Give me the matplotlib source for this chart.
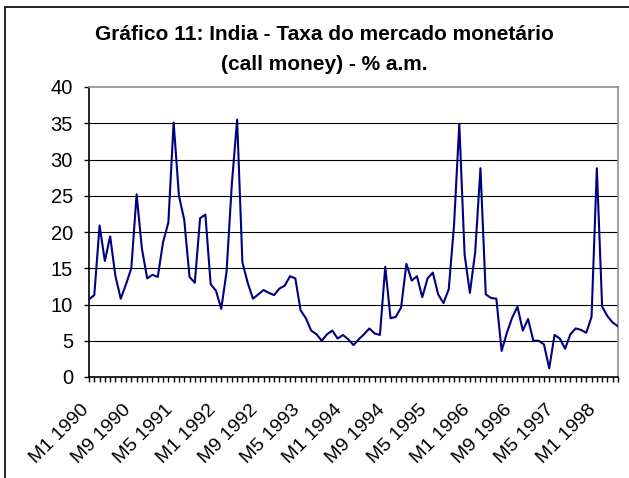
import matplotlib
matplotlib.use("Agg")
import matplotlib.pyplot as plt
import matplotlib.transforms as mtransforms
from matplotlib.patches import Rectangle

plt.rcParams['font.family'] = ['Liberation Sans', 'DejaVu Sans']

# monthly call money rate, M1 1990 .. M5 1998
rate = [10.7, 11.3, 20.9, 16.0, 19.4, 13.9, 10.8, 12.8, 15.0, 25.2,
        17.7, 13.6, 14.1, 13.8, 18.6, 21.3, 35.1, 25.0, 21.7, 13.8,
        13.0, 21.9, 22.4, 12.8, 11.9, 9.4, 14.5, 26.6, 35.5, 15.8,
        13.0, 10.8, 11.4, 12.0, 11.6, 11.3, 12.2, 12.6, 13.9, 13.6,
        9.2, 8.1, 6.4, 5.9, 5.0, 5.9, 6.4, 5.3, 5.8, 5.2,
        4.4, 5.2, 5.9, 6.7, 6.0, 5.8, 15.2, 8.1, 8.3, 9.6,
        15.6, 13.3, 13.9, 11.0, 13.6, 14.4, 11.4, 10.2, 12.1, 20.9,
        34.9, 16.9, 11.6, 17.2, 28.8, 11.4, 10.9, 10.8, 3.6, 6.1,
        8.2, 9.7, 6.4, 8.0, 5.0, 5.0, 4.5, 1.2, 5.8, 5.3,
        3.9, 5.9, 6.7, 6.5, 6.1, 8.3, 28.8, 9.7, 8.4, 7.5,
        7.0]
tick_labels = ["M1 1990", "M9 1990", "M5 1991", "M1 1992", "M9 1992",
               "M5 1993", "M1 1994", "M9 1994", "M5 1995", "M1 1996",
               "M9 1996", "M5 1997", "M1 1998"]
label_step = 8
y_ticks = [0, 5, 10, 15, 20, 25, 30, 35, 40]

fig = plt.figure(figsize=(6.29, 4.78), dpi=100)
ax = fig.add_axes([89/629, 1 - 377/478, (618 - 89)/629, (377 - 87)/478])

x = list(range(len(rate)))
ax.plot(x, rate, color='#000080', lw=1.5, zorder=3)

for v in y_ticks[1:-1]:
    ax.axhline(v, color='black', lw=0.8, zorder=1)

ax.set_xlim(0, len(rate) - 1)
ax.set_ylim(0, 40)
ax.set_yticks(y_ticks)
ax.set_yticklabels([str(v) for v in y_ticks], fontsize=14.5)
ax.set_xticks(x, minor=True)
ax.set_xticks(x[::label_step])
ax.set_xticklabels(tick_labels, rotation=45, ha='right', va='top',
                   rotation_mode='anchor', fontsize=14)

ax.tick_params(axis='y', direction='out', length=3.5, width=1, pad=8)
ax.tick_params(axis='x', which='both', direction='out', length=3.5, width=1, pad=14)

# nudge the slanted labels a little to the left, like the original
shift = mtransforms.ScaledTranslation(-9/100, 0, fig.dpi_scale_trans)
for lab in ax.get_xticklabels():
    lab.set_transform(lab.get_transform() + shift)

ax.spines['left'].set_color('black')
ax.spines['bottom'].set_color('black')
ax.spines['top'].set_color('#909090')
ax.spines['right'].set_color('#909090')
for s in ax.spines.values():
    s.set_linewidth(1.2)

fig.text(324/629, 1 - 34/478, "Gráfico 11: India - Taxa do mercado monetário",
         ha='center', va='center', fontsize=15, fontweight='bold')
fig.text(324/629, 1 - 64/478, "(call money) - % a.m.",
         ha='center', va='center', fontsize=15, fontweight='bold')

fig.add_artist(Rectangle((5/629, -0.1), 2, 1 - 7/478 + 0.1, fill=False,
                         transform=fig.transFigure, lw=1.2, edgecolor='black'))

fig.savefig("out.png", dpi=100)
